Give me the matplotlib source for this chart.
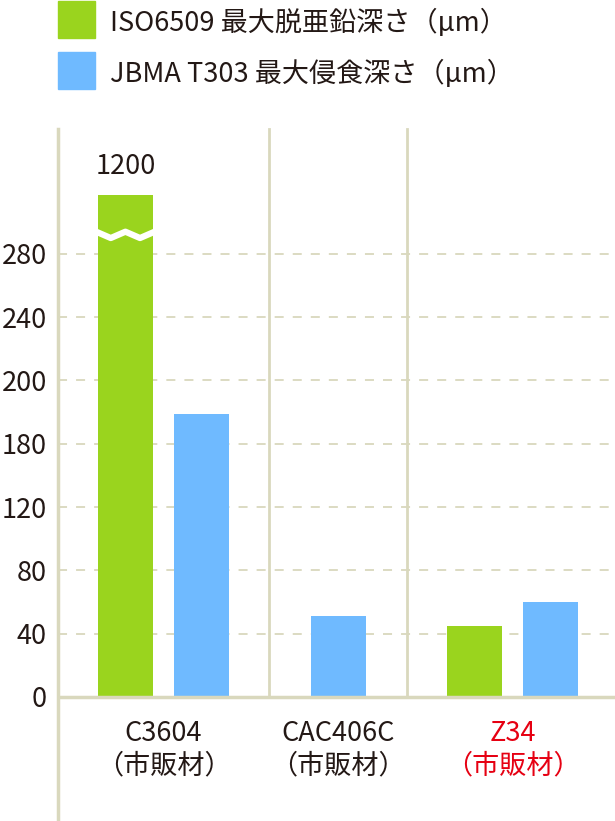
import numpy as np
import matplotlib.pyplot as plt
from matplotlib.patches import Rectangle

plt.rcParams['font.family'] = ['Noto Sans CJK JP', 'DejaVu Sans']

# データ
cat_names = ['C3604', 'CAC406C', 'Z34']
cat_sub = '（市販材）'
cat_colors = ['#231815', '#231815', '#e60012']
iso_depth = [1200, None, 45]      # ISO6509 最大脱亜鉛深さ
jbma_depth = [179, 51, 60]        # JBMA T303 最大侵食深さ
legend_labels = ['ISO6509 最大脱亜鉛深さ（μm）', 'JBMA T303 最大侵食深さ（μm）']
tick_vals = [0, 40, 80, 120, 160, 200, 240, 280]
tick_labels = ['0', '40', '80', '120', '180', '200', '240', '280']

green = '#9ad41e'
blue = '#6fbaff'
line_col = '#d9d8bd'
text_col = '#231815'
y_cap = 317   # 1200 は途中で省略して描く
fs = 19.5

fig = plt.figure(figsize=(6.15, 8.21), dpi=100)
ax = fig.add_axes([58 / 615, 0, 557 / 615, 692 / 821])

ax.set_xlim(-0.604, 2.586)
ax.set_ylim(-78.4, 358.9)

width = 0.315
off = 0.218
for i in range(len(cat_names)):
    vals = [(iso_depth[i], green), (jbma_depth[i], blue)]
    vals = [v for v in vals if v[0] is not None]
    n = len(vals)
    for j, (v, c) in enumerate(vals):
        x = i + (j - (n - 1) / 2) * 2 * off
        h = min(v, y_cap)
        ax.bar(x, h, width=width, color=c, zorder=3)
        if v > y_cap:
            # 省略の波線
            xs = np.linspace(x - width / 2 - 0.01, x + width / 2 + 0.01, 5)
            ys = [294, 290, 294, 290, 294]
            ax.plot(xs, ys, color='white', lw=4.5, zorder=4, solid_joinstyle='round')
            ax.text(x, y_cap + 20, str(v), ha='center', va='center_baseline',
                    fontsize=fs, color=text_col)

# グリッド
for t in tick_vals[1:]:
    ax.axhline(t, color=line_col, lw=1.3, ls=(0, (5, 5)), zorder=1)
ax.axhline(0, color=line_col, lw=2.5, zorder=5)
for s in [0.604, 1.395]:
    ax.plot([s, s], [0, 358.9], color=line_col, lw=2, zorder=1, clip_on=False)

for sp in ['top', 'right', 'bottom']:
    ax.spines[sp].set_visible(False)
ax.spines['left'].set_color(line_col)
ax.spines['left'].set_linewidth(2.5)

ax.set_yticks(tick_vals)
ax.set_yticklabels(tick_labels, fontsize=fs, color=text_col)
ax.tick_params(axis='y', length=0, pad=8)
ax.set_xticks([])

for i, (lab, c) in enumerate(zip(cat_names, cat_colors)):
    ax.text(i, -21, lab, ha='center', va='center_baseline', fontsize=fs, color=c)
    ax.text(i, -42, cat_sub, ha='center', va='center_baseline', fontsize=fs, color=c)

# 凡例
for k, (lab, c) in enumerate(zip(legend_labels, [green, blue])):
    y0 = 1 - (1 + 51 * k + 37) / 821
    fig.patches.append(Rectangle((58 / 615, y0), 37 / 615, 37 / 821,
                                 transform=fig.transFigure, color=c))
    fig.text(110 / 615, y0 + 18 / 821, lab, ha='left', va='center_baseline',
             fontsize=fs, color=text_col)

plt.savefig('out.png', dpi=100)
